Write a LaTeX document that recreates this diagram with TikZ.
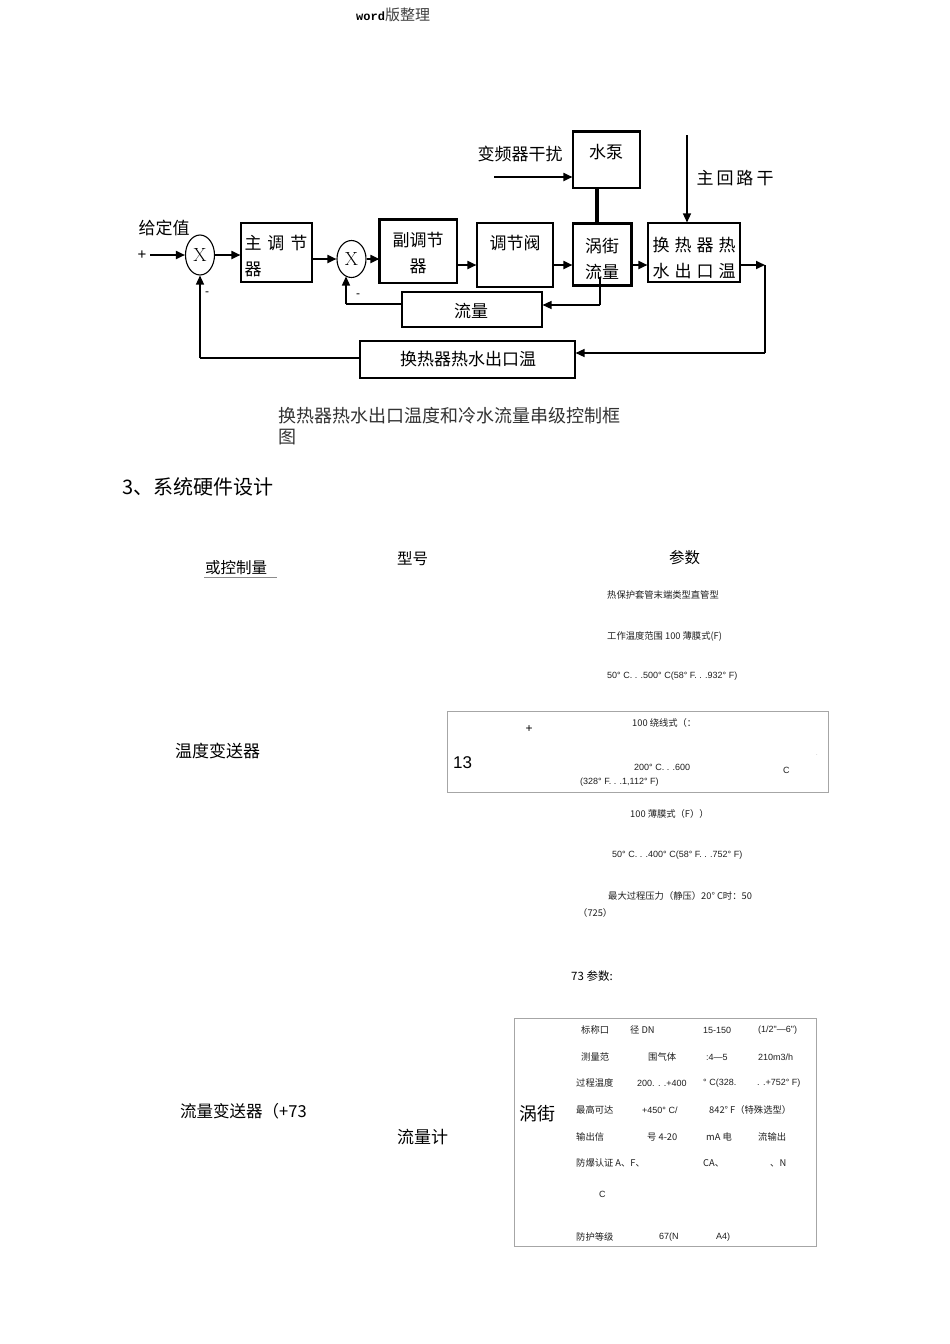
\documentclass[tikz,border=0pt]{standalone}
\usepackage{fontspec}
\newfontfamily\cjk{Noto Sans CJK SC}
\newfontfamily\lsans{Liberation Sans}
\newfontfamily\lmono{Liberation Mono}
\usetikzlibrary{arrows.meta,shapes.geometric,calc}
\begin{document}
\begin{tikzpicture}[x=1pt,y=-1pt,
  box/.style={draw, line width=1.1pt, inner sep=0pt},
  boxtext/.style={font=\cjk\fontsize{17}{26}\selectfont, inner sep=0pt, align=center},
  sumnode/.style={draw, ellipse, line width=1.1pt, minimum width=29pt, minimum height=40pt, inner sep=0pt, font=\fontsize{19}{19}\selectfont},
  arr/.style={-{Triangle[length=9pt,width=8pt]}, line width=1.8pt},
  fbline/.style={line width=1.4pt},
  lbl/.style={font=\cjk\fontsize{17}{20}\selectfont, inner sep=0pt},
  big/.style={font=\cjk\fontsize{15.5}{18}\selectfont, inner sep=0pt, anchor=west},
  sm/.style={font=\cjk\fontsize{9.3}{11}\selectfont, inner sep=0pt, anchor=west, text=black!88},
  smL/.style={font=\lsans\fontsize{9}{11}\selectfont, inner sep=0pt, anchor=west, text=black!88},
  tbl/.style={draw=black!35, line width=0.8pt, inner sep=0pt},
  ]
\fill[white] (0,0) rectangle (950,1344);
\useasboundingbox (0,0) rectangle (950,1344);

% header
\node[anchor=west, inner sep=0pt] (hdr) at (356,15) {{\lmono\bfseries\fontsize{12}{14}\selectfont word}{\cjk\fontsize{15}{17}\selectfont\color{black!75}版整理}};

% ---------------- block diagram ----------------
\node[sumnode] (x1) at (200,255) {X};
\node[sumnode, minimum height=37pt] (x2) at (351.5,259) {X};

\node[box, minimum width=71pt, minimum height=59pt] (zhu) at (276.5,252.5) {};
\node[boxtext, align=left] (zhut) at (276,256) {主\hspace{6pt}调\hspace{6pt}节\\器};

\node[box, minimum width=77pt, minimum height=63pt] (fu) at (418.5,251.5) {};
\draw[line width=2.2pt] (fu.south west) -- (fu.north west) -- (fu.north east);
\node[boxtext] (fut) at (418,253) {副调节\\器};

\node[box, minimum width=76pt, minimum height=64pt] (fa) at (515,255) {};
\node[boxtext] (fat) at (515,243) {调节阀};

\node[box, minimum width=58pt, minimum height=61pt] (wj) at (602,254.5) {};
\draw[line width=2.2pt] (wj.north west) -- (wj.north east) -- (wj.south east) -- (wj.south west);
\node[boxtext] (wjt) at (602,259) {涡街\\流量};

\node[box, minimum width=92pt, minimum height=59pt] (hr) at (694,252.5) {};
\node[boxtext] (hrt) at (694,258) {换\hspace{5pt}热\hspace{5pt}器\hspace{5pt}热\\水\hspace{5pt}出\hspace{5pt}口\hspace{5pt}温};

\node[box, minimum width=67pt, minimum height=56pt] (bp) at (606.5,160) {};
\draw[line width=2.4pt] (bp.north west) -- (bp.north east);
\node[boxtext] (bpt) at (606,152) {水泵};

\node[box, minimum width=140pt, minimum height=35pt] (ll) at (472,309.5) {};
\node[boxtext] (llt) at (471,311) {流量};

\node[box, minimum width=215pt, minimum height=37pt] (fb) at (467.5,359.5) {};
\node[boxtext] (fbt) at (468,359) {换热器热水出口温};

% labels
\node[lbl] (gd) at (164,228) {给定值};
\node[inner sep=0pt, font=\lsans\fontsize{15}{15}\selectfont] (plus) at (142,255) {+};
\node[inner sep=0pt, font=\lsans\fontsize{12}{12}\selectfont] (m1) at (207,294) {-};
\node[inner sep=0pt, font=\lsans\fontsize{12}{12}\selectfont] (m2) at (358,296) {-};
\node[lbl] (bpq) at (520,154) {变频器干扰};
\node[lbl] (zhl) at (735,178) {主\hspace{3pt}回\hspace{3pt}路\hspace{3pt}干};

% connectors
\coordinate (in) at (150,255);
\draw[arr] (in) -- (x1.west);
\draw[arr] (x1.east) -- (zhu.west |- x1.east);
\draw[arr] (zhu.east |- x2.west) -- (x2.west);
\draw[arr] (x2.east) -- (fu.west |- x2.east);
\coordinate (r2) at (0,265);
\draw[arr] (fu.east |- r2) -- (fa.west |- r2);
\draw[arr] (fa.east |- r2) -- (wj.west |- r2);
\draw[arr] (wj.east |- r2) -- (hr.west |- r2);
\coordinate (oc) at (765,265);
\coordinate (od) at (765,353);
\draw[arr] (hr.east |- r2) -- (oc);
\draw[fbline] (oc) -- (od);
\draw[arr, line width=1.4pt] (od) -- (fb.east |- od);
\coordinate (fl) at (200,358);
\draw[fbline] (fb.west |- fl) -- (fl);
\draw[arr, line width=1.4pt] (fl) -- (x1.south);
\coordinate (wa) at (600,277);
\coordinate (wb) at (600,305);
\draw[fbline] (wa) -- (wb);
\draw[arr, line width=1.4pt] (wb) -- (ll.east |- wb);
\coordinate (xa) at (346,304);
\coordinate (xb) at (346,276.5);
\draw[fbline] (ll.west |- xa) -- (xa);
\draw[arr, line width=1.4pt] (xa) -- (xb);
\coordinate (pc) at (597,0);
\draw[line width=3.5pt] (bp.south -| pc) -- (wj.north -| pc);
\coordinate (da) at (494,177);
\draw[arr] (da) -- (bp.west |- da);
\coordinate (ma) at (687,135);
\draw[arr, line width=1.4pt] (ma) -- (hr.north -| ma);

% caption
\node[anchor=west, inner sep=0pt, font=\cjk\fontsize{18}{21}\selectfont, text=black!80] (cap1) at (278,416) {换热器热水出口温度和冷水流量串级控制框};
\node[anchor=west, inner sep=0pt, font=\cjk\fontsize{18}{21}\selectfont, text=black!80] (cap2) at (278,437) {图};

% ---------------- hardware section ----------------
\node[anchor=west, inner sep=0pt, font=\cjk\fontsize{20}{22}\selectfont] (sec) at (122,487) {3、系统硬件设计};
\node[big] (hk) at (205,568) {或控制量};
\draw[black!45, line width=1.5pt] (204,577.5) -- (277,577.5);
\node[big] (xh) at (397,559) {型号};
\node[big] (cs) at (669,558) {参数};

\node[sm] (p1) at (607,595) {热保护套管末端类型直管型};
\node[sm] (p2) at (607,636) {工作温度范围 100 薄膜式(F)};
\node[smL] (p3) at (607,676) {50° C. . .500° C(58° F. . .932° F)};

\node[tbl, minimum width=381pt, minimum height=81pt] (t1) at (637.5,751.5) {};
\node[inner sep=0pt, font=\lsans\fontsize{12}{12}\selectfont] (t1p) at (529,729) {+};
\node[sm] (t1a) at (632,723) {100 绕线式（：};
\node[anchor=west, inner sep=0pt, font=\lsans\fontsize{17}{19}\selectfont] (t1n) at (453,763) {13};
\node[smL] (t1b) at (634,767) {200° C. . .600};
\node[smL] (t1c) at (783,770) {C};
\node[inner sep=0pt, font=\fontsize{6}{6}\selectfont, text=black!50] (t1d) at (817,755) {.};
\node[smL] (t1e) at (580,782) {(328° F. . .1,112° F)};

\node[sm] (p4) at (630,814) {100 薄膜式（F））};
\node[smL] (p5) at (612,855) {50° C. . .400° C(58° F. . .752° F)};
\node[sm] (p6) at (608,896) {最大过程压力（静压）20° C时：50};
\node[sm] (p7) at (578,913) {（725）};

\node[anchor=west, inner sep=0pt, font=\cjk\fontsize{17}{19}\selectfont] (wdb) at (175,751) {温度变送器};

\node[anchor=west, inner sep=0pt, font=\cjk\fontsize{11.5}{13}\selectfont] (cs73) at (571,976) {73 参数:};

\node[tbl, minimum width=302pt, minimum height=228pt] (t2) at (665,1132) {};
\node[anchor=west, inner sep=0pt, font=\cjk\fontsize{18}{20}\selectfont] (wjb) at (519,1114) {涡街};

\node[sm] (r1a) at (581,1030) {标称口};
\node[sm] (r1b) at (630,1030) {径 DN};
\node[smL] (r1c) at (703,1030) {15-150};
\node[smL] (r1d) at (758,1030) {(1/2"—6")};

\node[sm] (r2a) at (581,1057) {测量范};
\node[sm] (r2b) at (648,1057) {围气体};
\node[smL] (r2c) at (706,1057) {:4—5};
\node[smL] (r2d) at (758,1057) {210m3/h};

\node[sm] (r3a) at (576,1083) {过程温度};
\node[smL] (r3b) at (637,1083) {200. . .+400};
\node[smL] (r3c) at (703,1083) {° C(328.};
\node[smL] (r3d) at (757,1083) {. .+752° F)};

\node[sm] (r4a) at (576,1110) {最高可达};
\node[smL] (r4b) at (642,1110) {+450° C/};
\node[sm] (r4c) at (709,1110) {842° F（特殊选型）};

\node[sm] (r5a) at (576,1137) {输出信};
\node[sm] (r5b) at (647,1137) {号 4-20};
\node[sm] (r5c) at (706,1137) {mA 电};
\node[sm] (r5d) at (758,1137) {流输出};

\node[sm] (r6a) at (576,1163) {防爆认证 A、F、};
\node[sm] (r6b) at (703,1163) {CA、};
\node[sm] (r6c) at (770,1163) {、N};

\node[smL] (r7a) at (599,1194) {C};

\node[sm] (r8a) at (576,1237) {防护等级};
\node[smL] (r8b) at (659,1237) {67(N};
\node[smL] (r8c) at (716,1237) {A4)};

\node[anchor=west, inner sep=0pt, font=\cjk\fontsize{16.5}{19}\selectfont] (llb) at (180,1111) {流量变送器（+73};
\node[anchor=west, inner sep=0pt, font=\cjk\fontsize{17}{19}\selectfont] (llj) at (397,1137) {流量计};
\end{tikzpicture}
\end{document}
